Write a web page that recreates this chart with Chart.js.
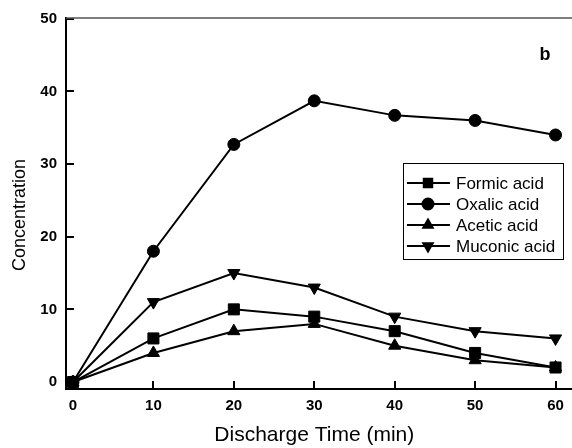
<!DOCTYPE html>
<html>
<head>
<meta charset="utf-8">
<script src="https://cdn.jsdelivr.net/npm/chart.js@4/dist/chart.umd.min.js"></script>
<style>
  html, body { margin: 0; padding: 0; background: #fff; }
  #wrap { width: 572px; height: 448px; }
</style>
</head>
<body>
<div id="wrap"><canvas id="chartAcids"></canvas></div>
<script>
// discharge time (min)
const times = [0, 10, 20, 30, 40, 50, 60];
const formicAcid = [0, 6, 10, 9, 7, 4, 2];
const oxalicAcid = [0, 18, 32.7, 38.7, 36.7, 36, 34];
const aceticAcid = [0, 4, 7, 8, 5, 3, 2];
const muconicAcid = [0, 11, 15, 13, 9, 7, 6];
const xTicks = [0, 10, 20, 30, 40, 50, 60];
const yTicks = [0, 10, 20, 30, 40, 50];

const FONT = '"Liberation Sans", Arial, sans-serif';
const toPoints = vals => vals.map((v, i) => ({ x: times[i], y: v }));

function series(label, vals, style, rotation) {
    return {
        label: label,
        data: toPoints(vals),
        borderColor: '#000',
        backgroundColor: '#000',
        borderWidth: 2,
        pointStyle: style,
        pointRotation: rotation || 0,
        pointRadius: style === 'circle' ? 6 : (style === 'rect' ? 7.8 : 7),
        pointBorderWidth: 1,
        tension: 0,
        clip: false
    };
}

// inward tick marks, frame, y title, panel letter and boxed legend
const decorations = {
    id: 'decorations',
    afterDraw(chart) {
        const ctx = chart.ctx;
        const area = chart.chartArea;
        const xs = chart.scales.x, ys = chart.scales.y;
        ctx.save();
        ctx.strokeStyle = '#000';
        ctx.lineWidth = 2;
        ctx.beginPath();
        yTicks.forEach(v => {
            const py = Math.round(ys.getPixelForValue(v));
            ctx.moveTo(area.left, py);
            ctx.lineTo(area.left + 8, py);
        });
        xTicks.forEach(v => {
            const px = Math.round(xs.getPixelForValue(v));
            ctx.moveTo(px, area.bottom);
            ctx.lineTo(px, area.bottom - 8);
        });
        ctx.stroke();

        // frame runs on to the right edge of the canvas
        ctx.beginPath();
        ctx.moveTo(area.right, area.bottom);
        ctx.lineTo(chart.width, area.bottom);
        ctx.stroke();
        ctx.strokeStyle = '#555';
        ctx.lineWidth = 1.5;
        ctx.beginPath();
        ctx.moveTo(area.left, area.top);
        ctx.lineTo(chart.width, area.top);
        ctx.stroke();

        ctx.fillStyle = '#000';
        ctx.textAlign = 'center';
        ctx.textBaseline = 'middle';

        ctx.save();
        ctx.translate(20, 215);
        ctx.rotate(-Math.PI / 2);
        ctx.font = '18px ' + FONT;
        ctx.fillText('Concentration', 0, 0);
        ctx.restore();

        ctx.font = 'bold 18px ' + FONT;
        ctx.fillText('b', 545, 55);

        // legend
        const box = { left: 403.5, top: 163.5, width: 160, height: 96 };
        ctx.lineWidth = 1;
        ctx.strokeStyle = '#000';
        ctx.strokeRect(box.left, box.top, box.width, box.height);
        ctx.font = '17px ' + FONT;
        ctx.textAlign = 'left';
        chart.data.datasets.forEach((ds, i) => {
            const cy = 183 + i * 21;
            ctx.lineWidth = 2;
            ctx.beginPath();
            ctx.moveTo(407, cy);
            ctx.lineTo(450, cy);
            ctx.stroke();
            Chart.helpers.drawPoint(ctx, {
                pointStyle: ds.pointStyle,
                rotation: ds.pointRotation,
                radius: ds.pointStyle === 'rect' ? 6 : 5.5,
                borderWidth: 1
            }, 428, cy);
            ctx.fill();
            ctx.fillText(ds.label, 456, cy + 1);
        });
        ctx.restore();
    }
};

const tickFont = { family: FONT, size: 15, weight: 'bold' };

new Chart(document.getElementById('chartAcids').getContext('2d'), {
    type: 'line',
    data: {
        datasets: [
            series('Formic acid', formicAcid, 'rect'),
            series('Oxalic acid', oxalicAcid, 'circle'),
            series('Acetic acid', aceticAcid, 'triangle'),
            series('Muconic acid', muconicAcid, 'triangle', 180)
        ]
    },
    options: {
        responsive: true,
        maintainAspectRatio: false,
        animation: false,
        layout: { padding: { top: 16, right: 0, left: 0, bottom: 0 } },
        plugins: {
            legend: { display: false },
            tooltip: { enabled: false }
        },
        scales: {
            x: {
                type: 'linear',
                min: -0.87,
                max: 60.87,
                afterBuildTicks: s => { s.ticks = xTicks.map(v => ({ value: v })); },
                afterFit: s => { s.height = 59; },
                grid: { drawOnChartArea: false, drawTicks: false },
                border: { color: '#000', width: 2 },
                ticks: { color: '#000', font: tickFont, padding: 8, maxRotation: 0 },
                title: { display: true, text: 'Discharge Time (min)', color: '#000', font: { family: FONT, size: 21 }, padding: { top: 0, bottom: 0 } }
            },
            y: {
                min: -0.96,
                max: 50.1,
                afterBuildTicks: s => { s.ticks = yTicks.map(v => ({ value: v })); },
                afterFit: s => { s.width = 66; },
                grid: { drawOnChartArea: false, drawTicks: false },
                border: { color: '#000', width: 2 },
                ticks: { color: '#000', font: tickFont, padding: 9 }
            }
        }
    },
    plugins: [decorations]
});
</script>
</body>
</html>
